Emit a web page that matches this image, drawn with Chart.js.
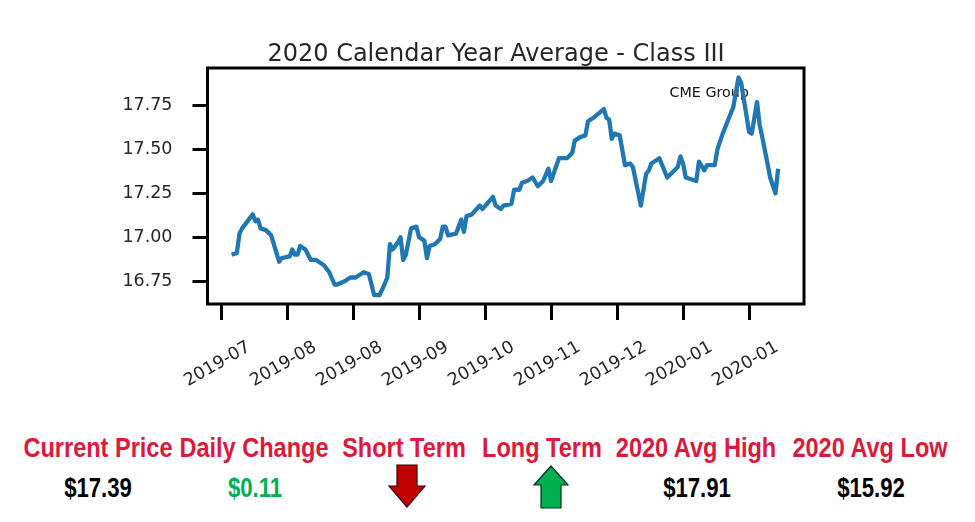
<!DOCTYPE html>
<html>
<head>
<meta charset="utf-8">
<script src="https://cdn.jsdelivr.net/npm/chart.js@4.4.1/dist/chart.umd.min.js"></script>
<style>
  html, body { margin: 0; padding: 0; background: #fff; }
  body { width: 975px; height: 522px; position: relative; overflow: hidden; }
  #wrap { position: absolute; left: 0; top: 0; width: 975px; height: 420px; }
  .stat { position: absolute; width: 200px; text-align: center; line-height: 28px; font-size: 28px; font-weight: bold;
          font-family: "Liberation Sans", Arial, sans-serif; white-space: nowrap;
          transform: scaleX(0.84); transform-origin: 50% 50%; }
  .lab { color: #e0173c; top: 434px; }
  .val { color: #000; top: 474px; font-size: 27px; transform: scaleX(0.82); }
  svg { position: absolute; left: 0; top: 0; }
</style>
</head>
<body>
<div id="wrap"><canvas id="c" width="975" height="420"></canvas></div>

<div class="stat lab" style="left:-2px">Current Price</div>
<div class="stat lab" style="left:154px">Daily Change</div>
<div class="stat lab" style="left:304px">Short Term</div>
<div class="stat lab" style="left:442px">Long Term</div>
<div class="stat lab" style="left:596px">2020 Avg High</div>
<div class="stat lab" style="left:770px">2020 Avg Low</div>

<div class="stat val" style="left:-2px">$17.39</div>
<div class="stat val" style="left:155px;color:#00b050">$0.11</div>
<div class="stat val" style="left:597px">$17.91</div>
<div class="stat val" style="left:771px">$15.92</div>

<svg width="975" height="522">
  <polygon points="397,465 417,465 417,486 425,486 407,507 389,486 397,486" fill="#c00000" stroke="#3a0000" stroke-width="1.2"/>
  <polygon points="551,466 568,485 561,485 561,508 541,508 541,485 534,485" fill="#00b050" stroke="#00301a" stroke-width="1.2"/>
</svg>

<script>
// ---- data ----
const chartTitle = '2020 Calendar Year Average - Class III';
const xTickPos = [9, 34, 59, 84, 109, 134, 159, 184, 209];
const xTickLabels = ['2019-07', '2019-08', '2019-08', '2019-09', '2019-10', '2019-11', '2019-12', '2020-01', '2020-01'];
const yTicks = [16.75, 17.00, 17.25, 17.50, 17.75];
const days = [13, 15, 16, 17, 21, 22, 23, 24, 26, 28, 31, 32, 35, 36, 37, 38, 39, 41, 43, 45, 48, 50, 52, 53, 56, 58, 60, 63, 65,
  67, 69, 70, 72, 73, 74, 76, 77, 78, 79, 81, 83, 84, 86, 87, 88, 90, 92, 93, 94, 95, 98, 99, 100, 101, 102, 104, 107, 108,
  112, 113, 115, 116, 119, 120, 122, 123, 125, 127, 129, 131, 133, 134, 137, 140, 142, 143, 145, 147, 148, 150, 154, 155,
  156, 157, 158, 160, 162, 164, 165, 168, 170, 171, 172, 175, 178, 180, 182, 183, 184, 185, 189, 190, 192, 193, 196, 197,
  199, 203, 205, 206, 209, 210, 212, 213, 214, 217, 219, 220];
const prices = [16.90, 16.91, 17.02, 17.05, 17.13, 17.09, 17.10, 17.05, 17.04, 17.01, 16.86, 16.88, 16.89, 16.93, 16.90, 16.90,
  16.95, 16.93, 16.87, 16.87, 16.84, 16.80, 16.73, 16.73, 16.75, 16.77, 16.77, 16.80, 16.79,
  16.67, 16.67, 16.70, 16.77, 16.96, 16.93, 16.97, 17.00, 16.87, 16.90, 17.05, 17.06, 17.00, 16.98, 16.88, 16.95, 16.96,
  16.99, 17.06, 17.06, 17.01, 17.02, 17.06, 17.10, 17.03, 17.12, 17.13, 17.18, 17.16,
  17.23, 17.18, 17.16, 17.18, 17.19, 17.27, 17.27, 17.31, 17.32, 17.34, 17.29, 17.32, 17.39, 17.32, 17.45, 17.45, 17.48,
  17.55, 17.57, 17.58, 17.66, 17.68, 17.73, 17.68,
  17.67, 17.56, 17.59, 17.58, 17.41, 17.42, 17.40, 17.18, 17.36, 17.38, 17.42, 17.45, 17.34, 17.37, 17.40, 17.46, 17.42,
  17.34, 17.32, 17.43, 17.38, 17.41, 17.41, 17.50,
  17.59, 17.74, 17.91, 17.88, 17.60, 17.59, 17.77, 17.64, 17.57, 17.34, 17.25, 17.39];

const points = days.map((d, i) => ({ x: d, y: prices[i] }));
const txt = '#262626';

const framePlugin = {
  id: 'frame',
  beforeDatasetsDraw(chart) {
    const { ctx, chartArea: a } = chart;
    ctx.save();
    ctx.fillStyle = '#111';
    ctx.font = '14.3px "DejaVu Sans"';
    ctx.textBaseline = 'alphabetic';
    ctx.textAlign = 'left';
    ctx.fillText('CME Group', a.left + (a.right - a.left) * 0.7745, a.top + (a.bottom - a.top) * 0.122);
    ctx.restore();
  },
  afterDraw(chart) {
    const { ctx, chartArea: a } = chart;
    ctx.save();
    ctx.strokeStyle = '#000';
    ctx.lineWidth = 3;
    ctx.strokeRect(a.left, a.top, a.right - a.left, a.bottom - a.top);
    // title
    ctx.fillStyle = txt;
    ctx.font = '24px "DejaVu Sans"';
    ctx.textAlign = 'center';
    ctx.textBaseline = 'alphabetic';
    ctx.fillText(chartTitle, a.left + (a.right - a.left) * 0.4837, a.top - 7);
    ctx.restore();
  }
};

new Chart(document.getElementById('c'), {
  type: 'line',
  data: {
    datasets: [{
      data: points,
      borderColor: '#1f77b4',
      borderWidth: 4.3,
      pointRadius: 0,
      tension: 0,
      borderJoinStyle: 'round',
      borderCapStyle: 'butt',
      fill: false
    }]
  },
  options: {
    responsive: false,
    animation: false,
    layout: { padding: { left: 0, right: 171, top: 68, bottom: 0 } },
    plugins: {
      legend: { display: false },
      tooltip: { enabled: false },
      title: { display: false }
    },
    scales: {
      x: {
        type: 'linear',
        min: 3.886,
        max: 229.8,
        afterFit(s) { s.height = 116; },
        afterBuildTicks(s) { s.ticks = xTickPos.map(v => ({ value: v })); },
        border: { display: false },
        grid: { display: true, drawOnChartArea: false, drawTicks: true, tickLength: 16, tickWidth: 3, tickColor: '#000' },
        ticks: {
          autoSkip: false,
          maxRotation: 30,
          minRotation: 30,
          labelOffset: 28,
          padding: 17,
          color: txt,
          font: { family: 'DejaVu Sans', size: 17.5 },
          callback: (v, i) => xTickLabels[i]
        }
      },
      y: {
        type: 'linear',
        min: 16.619,
        max: 17.964,
        afterFit(s) { s.width = 207.5; },
        afterBuildTicks(s) { s.ticks = yTicks.map(v => ({ value: v })); },
        border: { display: false },
        grid: { display: true, drawOnChartArea: false, drawTicks: true, tickLength: 15, tickWidth: 3, tickColor: '#000' },
        ticks: {
          padding: 20,
          color: txt,
          font: { family: 'DejaVu Sans', size: 17.5 },
          callback: (v) => Number(v).toFixed(2)
        }
      }
    }
  },
  plugins: [framePlugin]
});
</script>
</body>
</html>
